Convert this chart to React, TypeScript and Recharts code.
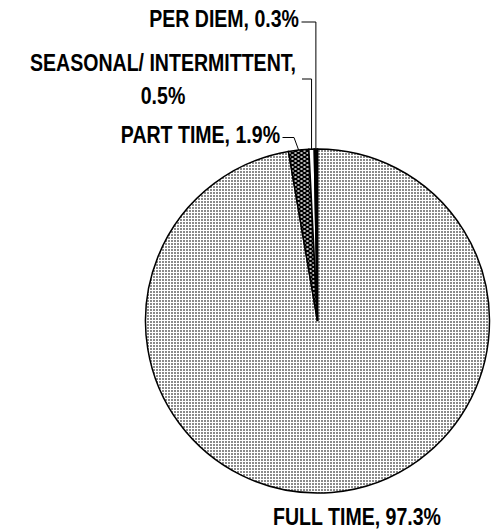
import { PieChart, Pie, Cell } from 'recharts';

// Employment type split
const CATEGORIES = ['FULL TIME', 'PART TIME', 'SEASONAL/ INTERMITTENT', 'PER DIEM'];
const SHARES = [97.3, 1.9, 0.5, 0.3];

const data = CATEGORIES.map((name, i) => ({ name, value: SHARES[i] }));

const FILLS = ['url(#dotsLight)', 'url(#dotsDark)', '#ffffff', '#000000'];

const FONT = "'Liberation Sans', Arial, sans-serif";
const SQUEEZE = 0.85; // fake a narrow face
const RAD = Math.PI / 180;

// label placement (Excel style callouts), per slice index
const LABEL_LAYOUT = [
  { x: 357, y: [525], anchor: 'middle', lineY: null, elbowX: null },
  { x: 280, y: [143], anchor: 'end', lineY: 137.5, elbowX: 294 },
  { x: 163, y: [71, 104], anchor: 'middle', lineY: 79, elbowX: null, lineStart: 302 },
  { x: 299, y: [27], anchor: 'end', lineY: 22, elbowX: null },
];

const renderLabel = ({ cx, cy, midAngle, outerRadius, index }: any) => {
  const L: any = LABEL_LAYOUT[index];
  const ax = cx + outerRadius * Math.cos(-midAngle * RAD);
  const ay = cy + outerRadius * Math.sin(-midAngle * RAD);
  const txt = `${CATEGORIES[index]}, ${SHARES[index]}%`;
  const lines = index === 2 ? [`${CATEGORIES[index]},`, `${SHARES[index]}%`] : [txt];
  let line = null;
  if (L.lineY != null) {
    const sx = L.lineStart ?? L.x + 2.5;
    const ex = L.elbowX ?? ax;
    line = (
      <polyline
        points={`${sx},${L.lineY} ${ex},${L.lineY} ${ax},${ay}`}
        fill="none"
        stroke="#000"
        strokeWidth={1}
      />
    );
  }
  return (
    <g key={`lbl-${index}`}>
      {line}
      {lines.map((t, i) => (
        <text
          key={i}
          x={0}
          y={0}
          transform={`translate(${L.x},${L.y[i]}) scale(${SQUEEZE},1)`}
          textAnchor={L.anchor}
          fontFamily={FONT}
          fontWeight="bold"
          fontSize={23}
          fill="#000"
        >
          {t}
        </text>
      ))}
    </g>
  );
};

export default function App() {
  return (
    <div style={{ position: 'absolute', left: 0, top: 0, background: '#fff' }}>
      <PieChart width={492} height={529} margin={{ top: 0, right: 0, bottom: 0, left: 0 }}>
        <defs>
          <pattern id="dotsLight" width="3" height="3" patternUnits="userSpaceOnUse">
            <rect width="3" height="3" fill="#ffffff" />
            <rect x="0" y="0" width="2" height="2" fill="#8a8a8a" />
          </pattern>
          <pattern id="dotsDark" width="6" height="4" patternUnits="userSpaceOnUse">
            <rect width="6" height="4" fill="#000000" />
            <ellipse cx="1.5" cy="1" rx="1.3" ry="0.9" fill="#c8c8c8" />
            <ellipse cx="4.5" cy="3" rx="1.3" ry="0.9" fill="#c8c8c8" />
          </pattern>
        </defs>
        <Pie
          data={data}
          dataKey="value"
          nameKey="name"
          cx={317.5}
          cy={321}
          outerRadius={172}
          startAngle={90}
          endAngle={-270}
          stroke="#000"
          strokeWidth={1.5}
          label={renderLabel}
          labelLine={false}
          isAnimationActive={false}
        >
          {data.map((d, i) => (
            <Cell key={d.name} fill={FILLS[i]} />
          ))}
        </Pie>
      </PieChart>
    </div>
  );
}
